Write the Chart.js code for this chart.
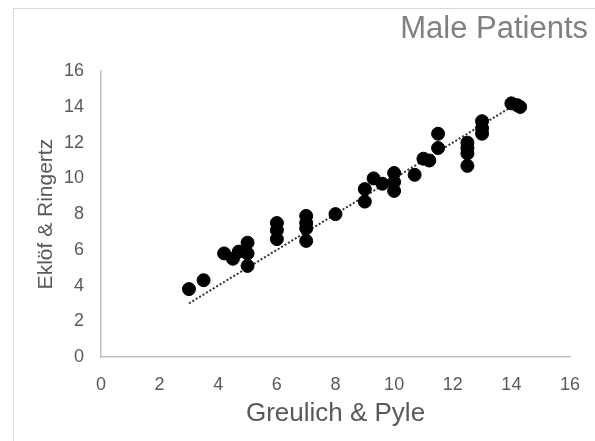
<!DOCTYPE html>
<html>
<head>
<meta charset="utf-8">
<script src="https://cdn.jsdelivr.net/npm/chart.js@4.4.1/dist/chart.umd.min.js"></script>
<style>
  html, body { margin: 0; padding: 0; background: #fff; overflow: hidden; }
  #wrap { position: relative; width: 595px; height: 441px; }
  #frame { position: absolute; left: 13px; top: 8px; width: 600px; height: 460px; border: 1px solid #d9d9d9; box-sizing: border-box; }
  canvas { position: absolute; left: 0; top: 0; }
</style>
</head>
<body>
<div id="wrap">
  <div id="frame"></div>
  <canvas id="chart" width="595" height="441"></canvas>
</div>
<script>
// Greulich & Pyle (x) vs Eklöf & Ringertz (y)
const gpAges = [3, 3.5, 4.2, 4.5, 4.7, 5, 5, 5, 6, 6, 6, 7, 7, 7, 7, 8, 9, 9, 9.3, 9.6, 10, 10, 10, 10.7, 11, 11.2, 11.5, 11.5, 12.5, 12.5, 12.5, 12.5, 13, 13, 13, 14, 14.2, 14.3];
const erAges = [3.8, 4.3, 5.8, 5.5, 5.9, 6.4, 5.8, 5.1, 7.5, 7.1, 6.6, 7.9, 7.5, 7.2, 6.5, 8.0, 9.4, 8.7, 10.0, 9.7, 10.3, 9.8, 9.3, 10.2, 11.1, 11.0, 12.5, 11.7, 12.0, 11.7, 11.4, 10.7, 13.2, 12.8, 12.5, 14.2, 14.1, 14.0];
const trendX = [3, 14.3];
const trendY = [3.0, 14.3];
const axisTicks = [0, 2, 4, 6, 8, 10, 12, 14, 16];

function toPoints(xs, ys) {
  const pts = [];
  for (let i = 0; i < xs.length; i++) {
    pts.push({ x: xs[i], y: ys[i] });
  }
  return pts;
}

const labelColor = '#595959';
const axisColor = '#bfbfbf';

Chart.defaults.font.family = "'Liberation Sans', Arial, sans-serif";

new Chart(document.getElementById('chart'), {
  type: 'scatter',
  data: {
    datasets: [
      {
        label: 'Male',
        data: toPoints(gpAges, erAges),
        backgroundColor: '#000',
        borderColor: '#000',
        pointRadius: 6.5,
        pointHoverRadius: 6.5,
        order: 1
      },
      {
        label: 'Trend',
        type: 'line',
        data: toPoints(trendX, trendY),
        borderColor: '#333',
        borderWidth: 2,
        borderDash: [2, 2],
        pointRadius: 0,
        fill: false,
        order: 2
      }
    ]
  },
  options: {
    responsive: false,
    animation: false,
    layout: { padding: { left: 0, right: 7, top: 0, bottom: 0 } },
    plugins: {
      legend: { display: false },
      tooltip: { enabled: false },
      title: {
        display: true,
        text: 'Male Patients',
        align: 'end',
        color: '#808080',
        font: { size: 31, weight: 'normal' },
        padding: { top: 11, bottom: 23 }
      }
    },
    scales: {
      x: {
        type: 'linear',
        min: 0,
        max: 16,
        afterBuildTicks: (s) => { s.ticks = axisTicks.map(v => ({ value: v })); },
        // layout padding overlaps scale padding, so 25 here puts the plot edge at 570
        afterFit: (s) => { s.height = 84; s.paddingRight = 25; },
        grid: { display: false, drawTicks: false },
        border: { color: axisColor, width: 1.5 },
        ticks: { color: labelColor, font: { size: 18 }, padding: 17, maxRotation: 0 },
        title: {
          display: true,
          text: 'Greulich & Pyle',
          color: labelColor,
          font: { size: 26 },
          padding: { top: 0, bottom: 12 }
        }
      },
      y: {
        type: 'linear',
        min: 0,
        max: 16,
        afterBuildTicks: (s) => { s.ticks = axisTicks.map(v => ({ value: v })); },
        afterFit: (s) => { s.width = 101; },
        grid: { display: false, drawTicks: false },
        border: { color: axisColor, width: 1.5 },
        ticks: { color: labelColor, font: { size: 18 }, padding: 17 },
        title: {
          display: true,
          text: 'Eklöf & Ringertz',
          color: labelColor,
          font: { size: 21 },
          padding: { top: 34, bottom: 0 }
        }
      }
    }
  }
});
</script>
</body>
</html>
